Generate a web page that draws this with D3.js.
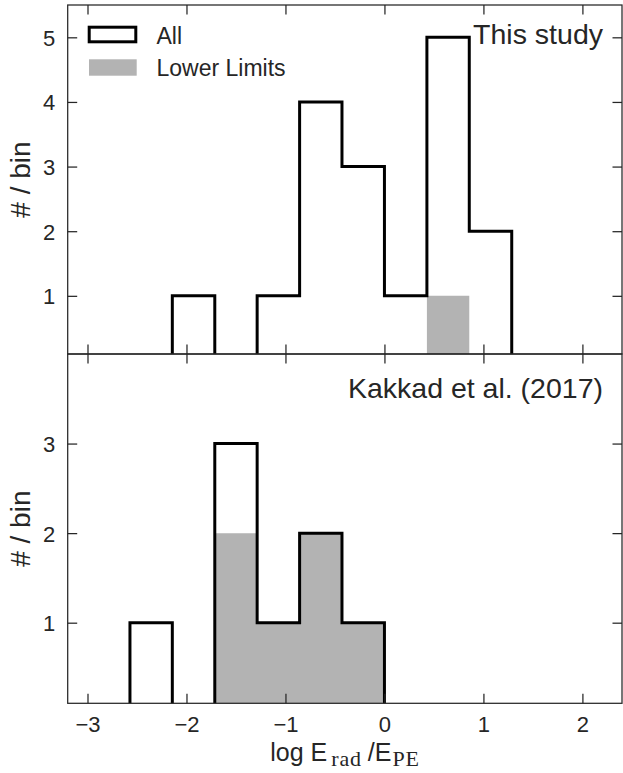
<!DOCTYPE html>
<html>
<head>
<meta charset="utf-8">
<script src="https://cdn.jsdelivr.net/npm/d3@7"></script>
<style>
  html, body { margin: 0; padding: 0; background: #fff; }
  svg { display: block; }
  text { font-family: "Liberation Sans", Arial, Helvetica, sans-serif; fill: #262626; }
</style>
</head>
<body>
<svg id="chart" width="623" height="773"></svg>
<script>
// ---- data ----
const binEdges = [-3, -2.571, -2.143, -1.714, -1.286, -0.857, -0.429, 0, 0.429, 0.857, 1.286, 1.714, 2.143, 2.571, 3];
const thisStudyAll   = [0, 0, 1, 0, 1, 4, 3, 1, 5, 2, 0, 0, 0, 0];
const thisStudyLower = [0, 0, 0, 0, 0, 0, 0, 0, 1, 0, 0, 0, 0, 0];
const kakkadAll      = [0, 1, 0, 3, 1, 2, 1, 0, 0, 0, 0, 0, 0, 0];
const kakkadLower    = [0, 0, 0, 2, 1, 2, 1, 0, 0, 0, 0, 0, 0, 0];
const xTicks = [-3, -2, -1, 0, 1, 2];
const yTicksTop = [1, 2, 3, 4, 5];
const yTicksBottom = [1, 2, 3];
const panelTitles = ["This study", "Kakkad et al. (2017)"];
const legendLabels = ["All", "Lower Limits"];

// ---- layout ----
const svg = d3.select("#chart");
const left = 67.7, right = 622;
const x = d3.scaleLinear().domain([-3.2, 2.4]).range([left, right]);
const axisColor = "#262626";
const tickLen = 9.5;
const serif = '"Liberation Serif", "Times New Roman", serif';

const panels = [
  { top: 5, bottom: 354, domain: [0.1, 5.5], all: thisStudyAll, lower: thisStudyLower, yTicks: yTicksTop, title: panelTitles[0], titleY: 44, xLabels: false },
  { top: 354, bottom: 703.3, domain: [0.1, 4], all: kakkadAll, lower: kakkadLower, yTicks: yTicksBottom, title: panelTitles[1], titleY: 398, xLabels: true }
];

function stepPoints(counts) {
  const pts = [[binEdges[0], 0]];
  counts.forEach((c, i) => { pts.push([binEdges[i], c]); pts.push([binEdges[i + 1], c]); });
  pts.push([binEdges[binEdges.length - 1], 0]);
  return pts;
}

panels.forEach((p, pi) => {
  const y = d3.scaleLinear().domain(p.domain).range([p.bottom, p.top]);
  const clipId = "clip" + pi;
  svg.append("clipPath").attr("id", clipId)
    .append("rect").attr("x", left).attr("y", p.top).attr("width", right - left).attr("height", p.bottom - p.top);
  const g = svg.append("g").attr("clip-path", `url(#${clipId})`);
  const line = d3.line().x(d => x(d[0])).y(d => y(d[1]));

  // lower limits (stepfilled)
  g.append("path")
    .attr("d", line(stepPoints(p.lower)) + "Z")
    .attr("fill", "#b3b3b3").attr("stroke", "none");
  // all (step outline)
  g.append("path")
    .attr("d", line(stepPoints(p.all)))
    .attr("fill", "none").attr("stroke", "#000").attr("stroke-width", 3)
    .attr("stroke-linejoin", "miter");

  // spines
  svg.append("rect").attr("x", left).attr("y", p.top).attr("width", right - left).attr("height", p.bottom - p.top)
    .attr("fill", "none").attr("stroke", axisColor).attr("stroke-width", 1.25);

  // x ticks (inward, top and bottom)
  const xb = d3.axisBottom(x).tickValues(xTicks).tickSizeInner(-tickLen).tickSizeOuter(0)
    .tickFormat(p.xLabels ? (d => d3.format("")(d).replace("-", "\u2212")) : "");
  const gxb = svg.append("g").attr("transform", `translate(0,${p.bottom})`).call(xb);
  const xt = d3.axisTop(x).tickValues(xTicks).tickSizeInner(-tickLen).tickSizeOuter(0).tickFormat("");
  const gxt = svg.append("g").attr("transform", `translate(0,${p.top})`).call(xt);
  // y ticks (inward, left and right)
  const yl = d3.axisLeft(y).tickValues(p.yTicks).tickSizeInner(-tickLen).tickSizeOuter(0).tickFormat(d3.format("d"));
  const gyl = svg.append("g").attr("transform", `translate(${left},0)`).call(yl);
  const yr = d3.axisRight(y).tickValues(p.yTicks).tickSizeInner(-tickLen).tickSizeOuter(0).tickFormat("");
  const gyr = svg.append("g").attr("transform", `translate(${right},0)`).call(yr);

  [gxb, gxt, gyl, gyr].forEach(a => {
    a.select(".domain").remove();
    a.selectAll(".tick line").attr("stroke", axisColor).attr("stroke-width", 1.25);
    a.selectAll(".tick text").attr("fill", axisColor).style("font-size", "22px")
      .style("font-family", '"Liberation Sans", Arial, sans-serif');
  });
  gyl.selectAll(".tick text").attr("x", -12.5).attr("dy", "0.36em");
  gxb.selectAll(".tick text").attr("y", 28.7).attr("dy", 0);

  // panel title
  svg.append("text").attr("x", 603).attr("y", p.titleY).attr("text-anchor", "end")
    .style("font-size", "28.5px").text(p.title);

  // y label
  svg.append("text")
    .attr("transform", `translate(30,${(p.top + p.bottom) / 2}) rotate(-90)`)
    .attr("text-anchor", "middle").style("font-size", "28px").text("# / bin");
});

// legend
svg.append("rect").attr("x", 89.2).attr("y", 27.2).attr("width", 46.6).attr("height", 14.6)
  .attr("fill", "#fff").attr("stroke", "#000").attr("stroke-width", 3);
svg.append("rect").attr("x", 89).attr("y", 59.3).attr("width", 47.7).attr("height", 16.4)
  .attr("fill", "#b3b3b3");
svg.append("text").attr("x", 156.5).attr("y", 43.5).style("font-size", "23px").text(legendLabels[0]);
svg.append("text").attr("x", 156.5).attr("y", 76).style("font-size", "23px").text(legendLabels[1]);

// x label
const xl = svg.append("text").attr("x", 345).attr("y", 761).attr("text-anchor", "middle")
  .style("font-size", "25px");
xl.append("tspan").text("log E");
xl.append("tspan").attr("dx", 4).attr("dy", 5).style("font-family", serif).style("font-size", "22px")
  .style("letter-spacing", "0.8px").text("rad");
xl.append("tspan").attr("dx", 6).attr("dy", -5).text("/E");
xl.append("tspan").attr("dx", 1).attr("dy", 5).style("font-family", serif).style("font-size", "22px")
  .style("letter-spacing", "0.8px").text("PE");
</script>
</body>
</html>
